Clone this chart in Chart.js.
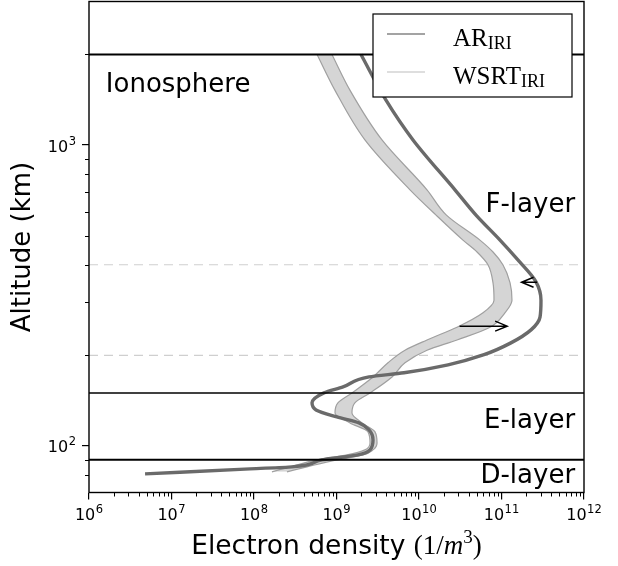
<!DOCTYPE html>
<html><head><meta charset="utf-8">
<script src="https://cdn.jsdelivr.net/npm/chart.js@4/dist/chart.umd.min.js"></script>
<style>html,body{margin:0;padding:0;background:#fff;}canvas{display:block;}</style>
</head><body>
<canvas id="c" width="618" height="566"></canvas>
<script>
// ---- data ----
const seriesNames = ['AR_IRI', 'WSRT_IRI'];

const arAltitudeKm = [2000,1410,1040,710,585,483,415,351,305,268,243,220,201,186,175,169.5,157,150,139,131.7,124.8,119.2,113,104.7,97,93.3,89.9,85.2,83.9,80.7];
const arDensity = [1.98e9,3.98e9,8.46e9,2.73e10,4.91e10,9.6e10,1.58e11,2.62e11,3.01e11,2.93e11,2.28e11,1.30e11,6.14e10,2.25e10,6.58e9,2.48e9,1.20e9,7.05e8,5.05e8,5.65e8,1.01e9,1.87e9,2.48e9,2.77e9,2.55e9,1.82e9,6.67e8,2.89e8,8.96e7,4.78e6];

const wsrtAltitudeKm = [2000,1520,1040,710,585,483,441,400,348,305,277,248,225,208,189,169.5,150,139,128.7,119.2,111.3,102.3,97,93.3,89.9,85.2,82];
const wsrtLow  = [5.81e8,9.59e8,2.21e9,7.78e9,1.61e10,3.41e10,5.05e10,6.85e10,7.89e10,8.11e10,5.97e10,2.89e10,1.25e10,6.76e9,4.21e9,2.77e9,1.54e9,1.04e9,9.59e8,1.46e9,2.41e9,2.55e9,2.21e9,1.34e9,5.81e8,2.73e8,1.65e8];
const wsrtHigh = [8.81e8,1.46e9,3.56e9,1.25e10,2.15e10,5.48e10,7.89e10,1.04e11,1.27e11,1.34e11,1.10e11,7.26e10,2.89e10,1.25e10,6.76e9,4.71e9,2.55e9,1.67e9,1.54e9,2.04e9,2.93e9,3.10e9,2.77e9,2.10e9,1.01e9,4.38e8,2.51e8];

const layerBoundaryKm = [2000, 150, 90];
const guideAltitudeKm = [400, 200];
const layerNames = ['Ionosphere', 'F-layer', 'E-layer', 'D-layer'];

const arrowAltitudeKm = [350, 250];
const arrowFromDensity = [2.7e11, 3.1e10];
const arrowToDensity = [1.75e11, 1.17e11];

const xTickValues = [1e6, 1e7, 1e8, 1e9, 1e10, 1e11, 1e12];
const xTickExponents = ['6', '7', '8', '9', '10', '11', '12'];
const yTickValues = [100, 1000];
const yTickExponents = ['2', '3'];
const xRange = [1e6, 1e12];
const yRange = [70, 3000];

// ---- build datasets ----
const pts = (xs, ys) => xs.map((v, i) => ({x: v, y: ys[i]}));
const hline = (alt) => [{x: xRange[0], y: alt}, {x: xRange[1], y: alt}];
const smooth = {cubicInterpolationMode: 'monotone'};

const datasets = [
  Object.assign({label: seriesNames[1] + ' low', data: pts(wsrtLow, wsrtAltitudeKm), borderColor: '#a0a0a0', borderWidth: 1.2, fill: false, order: 3}, smooth),
  Object.assign({label: seriesNames[1], data: pts(wsrtHigh, wsrtAltitudeKm), borderColor: '#a0a0a0', borderWidth: 1.2, backgroundColor: '#d5d5d5', fill: '-1', order: 4}, smooth),
  Object.assign({label: seriesNames[0], data: pts(arDensity, arAltitudeKm), borderColor: '#6a6a6a', borderWidth: 3.4, fill: false, order: 2}, smooth),
];
layerBoundaryKm.forEach((a, i) => datasets.push({label: 'boundary ' + a, data: hline(a), borderColor: '#000', borderWidth: i === 1 ? 1.5 : 2, fill: false, order: 1}));
guideAltitudeKm.forEach(a => datasets.push({label: 'guide ' + a, data: hline(a), borderColor: '#cfcfcf', borderWidth: 1.2, borderDash: [9, 6], fill: false, order: 6}));

function drawPow(ctx, exp, px, baseline, align) {
  ctx.font = '16px "DejaVu Sans"';
  const w1 = ctx.measureText('10').width;
  ctx.font = '11.5px "DejaVu Sans"';
  const w2 = ctx.measureText(exp).width;
  const total = w1 + w2 + 0.5;
  const start = align === 'right' ? px - total : px - total / 2;
  ctx.textAlign = 'left';
  ctx.textBaseline = 'alphabetic';
  ctx.font = '16px "DejaVu Sans"';
  ctx.fillText('10', start, baseline);
  ctx.font = '11.5px "DejaVu Sans"';
  ctx.fillText(exp, start + w1 + 0.5, baseline - 7);
}

const decor = {
  id: 'decor',
  afterDatasetsDraw(chart) {
    const {ctx, scales: {x, y}} = chart;
    ctx.save();
    ctx.strokeStyle = '#000';
    ctx.lineWidth = 1.5;
    arrowAltitudeKm.forEach((alt, i) => {
      const x0 = x.getPixelForValue(arrowFromDensity[i]);
      const x1 = x.getPixelForValue(arrowToDensity[i]);
      const yy = y.getPixelForValue(alt);
      const dir = Math.sign(x1 - x0);
      ctx.beginPath();
      ctx.moveTo(x0, yy); ctx.lineTo(x1, yy);
      ctx.moveTo(x1 - dir * 12, yy - 5); ctx.lineTo(x1, yy); ctx.lineTo(x1 - dir * 12, yy + 5);
      ctx.stroke();
    });
    // layer labels
    ctx.fillStyle = '#000';
    ctx.font = '26px "DejaVu Sans"';
    const lx = [1.6e6, 7.8e11, 7.8e11, 7.8e11];
    const ly = [1500, 600, 115, 75.4];
    layerNames.forEach((t, i) => {
      ctx.textAlign = i === 0 ? 'left' : 'right';
      ctx.textBaseline = 'alphabetic';
      ctx.fillText(t, x.getPixelForValue(lx[i]), y.getPixelForValue(ly[i]));
    });
    ctx.restore();
  },
  afterDraw(chart) {
    const {ctx, chartArea: a, scales: {x, y}} = chart;
    ctx.save();
    // frame
    ctx.strokeStyle = '#000';
    ctx.lineWidth = 1.4;
    ctx.strokeRect(a.left, a.top, a.right - a.left, a.bottom - a.top);
    // minor ticks
    ctx.lineWidth = 1;
    ctx.beginPath();
    for (let d = 6; d < 12; d++) for (let k = 2; k <= 9; k++) {
      const px = Math.round(x.getPixelForValue(k * Math.pow(10, d))) + 0.5;
      ctx.moveTo(px, a.bottom); ctx.lineTo(px, a.bottom + 4);
    }
    for (let d = 1; d < 4; d++) for (let k = 2; k <= 9; k++) {
      const v = k * Math.pow(10, d);
      if (v <= yRange[0] || v >= yRange[1]) continue;
      const py = Math.round(y.getPixelForValue(v)) + 0.5;
      ctx.moveTo(a.left - 4, py); ctx.lineTo(a.left, py);
    }
    ctx.stroke();
    // tick labels
    ctx.fillStyle = '#000';
    xTickValues.forEach((v, i) => drawPow(ctx, xTickExponents[i], x.getPixelForValue(v), a.bottom + 27.5, 'center'));
    yTickValues.forEach((v, i) => drawPow(ctx, yTickExponents[i], a.left - 13, y.getPixelForValue(v) + 6.5, 'right'));
    // legend
    const bw = 199, bh = 83;
    const bx = a.right - 12 - bw, by = a.top + 12.5;
    ctx.fillStyle = '#fff';
    ctx.fillRect(bx, by, bw, bh);
    ctx.strokeStyle = '#000';
    ctx.lineWidth = 1.2;
    ctx.strokeRect(bx, by, bw, bh);
    const legendColors = ['#858585', '#d3d3d3'];
    const main = ['AR', 'WSRT'];
    seriesNames.forEach((n, i) => {
      const yy = by + 20 + i * 38;
      ctx.strokeStyle = legendColors[i];
      ctx.lineWidth = 1.6;
      ctx.beginPath(); ctx.moveTo(bx + 14, yy); ctx.lineTo(bx + 52, yy); ctx.stroke();
      ctx.fillStyle = '#000';
      ctx.textAlign = 'left';
      ctx.textBaseline = 'alphabetic';
      ctx.font = '25px "Liberation Serif"';
      const tx = bx + 80, ty = yy + 11.5;
      ctx.fillText(main[i], tx, ty);
      const w = ctx.measureText(main[i]).width;
      ctx.font = '18px "Liberation Serif"';
      ctx.fillText(n.split('_')[1], tx + w, ty + 3);
    });
    // x axis title with math part
    const parts = [
      {t: 'Electron density ', f: '26.5px "DejaVu Sans"', dy: 0},
      {t: '(1/', f: '27px "Liberation Serif"', dy: 0},
      {t: 'm', f: 'italic 27px "Liberation Serif"', dy: 0},
      {t: '3', f: '19px "Liberation Serif"', dy: -11},
      {t: ')', f: '27px "Liberation Serif"', dy: 0}
    ];
    let total = 0;
    parts.forEach(p => { ctx.font = p.f; p.w = ctx.measureText(p.t).width; total += p.w; });
    let cx = (a.left + a.right) / 2 - total / 2;
    ctx.fillStyle = '#000';
    ctx.textAlign = 'left';
    ctx.textBaseline = 'alphabetic';
    parts.forEach(p => { ctx.font = p.f; ctx.fillText(p.t, cx, 554 + p.dy); cx += p.w; });
    ctx.restore();
  }
};

new Chart(document.getElementById('c'), {
  type: 'line',
  data: {datasets},
  options: {
    indexAxis: 'y',
    responsive: false,
    animation: false,
    events: [],
    layout: {padding: {top: 1.5, right: 34, left: 0, bottom: 0}},
    elements: {point: {radius: 0}},
    plugins: {legend: {display: false}, tooltip: {enabled: false}, filler: {propagate: false}},
    scales: {
      x: {
        type: 'logarithmic', position: 'bottom', min: xRange[0], max: xRange[1],
        afterFit: s => { s.height = 73.5; s.paddingLeft = 0; s.paddingRight = 0; },
        afterBuildTicks: s => { s.ticks = xTickValues.map(v => ({value: v})); },
        grid: {display: true, drawOnChartArea: false, drawTicks: true, tickLength: 7, color: '#000', lineWidth: 1.2},
        border: {display: false},
        ticks: {display: false},
        title: {display: false}
      },
      y: {
        type: 'logarithmic', position: 'left', min: yRange[0], max: yRange[1],
        afterFit: s => { s.width = 89; s.paddingTop = 0; s.paddingBottom = 0; },
        afterBuildTicks: s => { s.ticks = yTickValues.map(v => ({value: v})); },
        grid: {display: true, drawOnChartArea: false, drawTicks: true, tickLength: 7, color: '#000', lineWidth: 1.2},
        border: {display: false},
        ticks: {display: false},
        title: {display: true, text: 'Altitude (km)', color: '#000', font: {family: 'DejaVu Sans', size: 26}, padding: {top: 8, bottom: 0}}
      }
    }
  },
  plugins: [decor]
});
</script>
</body></html>
